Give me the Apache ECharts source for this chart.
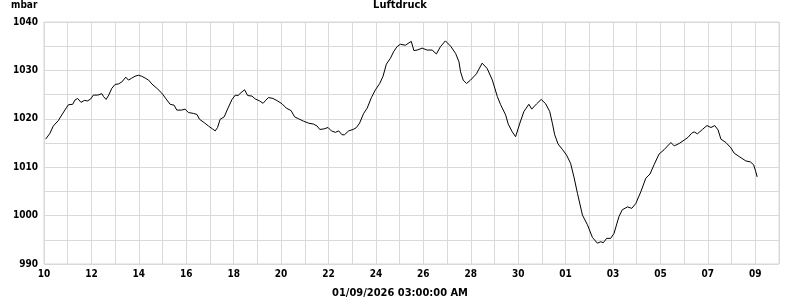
<!DOCTYPE html>
<html><head><meta charset="utf-8">
<script src="https://cdn.jsdelivr.net/npm/echarts@6/dist/echarts.min.js"></script>
<style>html,body{margin:0;padding:0;background:#fff}#c{width:800px;height:300px}</style>
</head><body><div id="c"></div>
<script>
// Days since 10 Dec 00:00
const dayOffsets = [0.07,0.25,0.39,0.60,0.75,0.96,1.03,1.21,1.31,1.42,1.56,1.70,1.84,1.97,2.08,2.27,2.44,2.51,2.62,2.73,2.86,3.00,3.14,3.28,3.35,3.45,3.56,3.70,3.84,3.98,4.12,4.27,4.41,4.55,4.76,4.97,5.18,5.32,5.49,5.60,5.81,5.95,6.09,6.31,6.45,6.56,6.76,6.94,7.11,7.22,7.32,7.43,7.60,7.76,7.93,8.07,8.18,8.31,8.46,8.59,8.77,8.91,9.09,9.24,9.33,9.47,9.66,9.85,10.04,10.22,10.42,10.57,10.74,10.95,11.16,11.37,11.52,11.63,11.80,11.98,12.12,12.29,12.43,12.57,12.67,12.85,13.04,13.18,13.31,13.48,13.63,13.81,13.98,14.16,14.30,14.44,14.61,14.75,14.89,15.03,15.24,15.49,15.60,15.74,15.95,16.16,16.37,16.55,16.72,16.93,17.15,17.36,17.50,17.57,17.68,17.82,17.99,18.24,18.48,18.69,18.91,19.12,19.26,19.47,19.58,19.75,19.89,19.96,20.07,20.24,20.45,20.57,20.78,20.97,21.16,21.33,21.44,21.54,21.68,21.86,22.04,22.21,22.35,22.50,22.71,22.92,23.13,23.34,23.48,23.59,23.73,23.90,24.04,24.25,24.39,24.61,24.79,24.96,25.17,25.38,25.56,25.73,25.94,26.15,26.23,26.44,26.58,26.79,27.00,27.17,27.31,27.42,27.56,27.77,27.96,28.13,28.29,28.43,28.55,28.76,28.97,29.11,29.32,29.60,29.79,29.93,30.00,30.08];
const pressure = [1015.8,1017.0,1018.5,1019.6,1020.8,1022.4,1022.9,1023.0,1023.9,1024.2,1023.4,1023.8,1023.7,1024.1,1024.9,1024.9,1025.2,1024.6,1024.0,1024.9,1026.3,1027.1,1027.2,1027.6,1027.7,1028.6,1028.0,1028.4,1028.8,1029.0,1028.8,1028.4,1028.0,1027.2,1026.3,1025.3,1023.9,1023.0,1022.8,1021.8,1021.8,1022.0,1021.3,1021.1,1020.9,1019.9,1019.2,1018.5,1017.9,1017.5,1018.2,1019.9,1020.4,1022.2,1024.0,1024.9,1024.8,1025.4,1026.0,1024.8,1024.7,1024.1,1023.7,1023.2,1023.7,1024.4,1024.2,1023.7,1023.1,1022.2,1021.7,1020.4,1020.0,1019.5,1019.1,1018.9,1018.5,1017.8,1017.9,1018.2,1017.5,1017.2,1017.5,1016.7,1016.7,1017.5,1017.8,1018.2,1019.1,1021.1,1022.2,1024.4,1026.0,1027.3,1028.8,1031.3,1032.5,1033.9,1034.9,1035.4,1035.2,1036.0,1034.1,1034.2,1034.6,1034.2,1034.2,1033.4,1034.9,1036.1,1035.0,1033.5,1031.8,1029.7,1028.0,1027.3,1028.0,1029.3,1031.5,1030.4,1028.0,1024.6,1022.9,1020.8,1018.9,1017.3,1016.3,1016.4,1019.1,1021.5,1023.0,1022.0,1023.1,1024.0,1023.1,1021.5,1019.1,1016.7,1014.8,1013.7,1012.5,1010.8,1008.0,1004.6,1000.1,998.1,995.5,994.3,994.6,994.4,995.3,995.3,996.3,999.8,1001.2,1001.8,1001.5,1002.5,1004.9,1007.7,1008.6,1010.5,1012.7,1013.6,1013.9,1015.1,1014.4,1014.9,1015.6,1016.2,1017.0,1017.3,1016.9,1017.8,1018.6,1018.2,1018.6,1017.7,1015.8,1015.1,1014.0,1012.9,1012.2,1011.3,1011.1,1010.5,1009.4,1008.0];
const xTickLabels = ['10','12','14','16','18','20','22','24','26','28','30','01','03','05','07','09'];
const titleText = 'Luftdruck';
const unitText = 'mbar';
const footerText = '01/09/2026 03:00:00 AM';

const FONT = '"DejaVu Sans Condensed", "DejaVu Sans", sans-serif';
const GRIDC = '#d9d9d9';
const chart = echarts.init(document.getElementById('c'), null, {renderer: 'canvas'});
chart.setOption({
  animation: false,
  backgroundColor: '#fff',
  title: {text: titleText, left: 'center', top: 0, padding: 0,
    textStyle: {fontFamily: FONT, fontSize: 11, fontWeight: 'bold', color: '#000'}},
  grid: {left: 44, right: 21, top: 22, bottom: 36, show: true, borderColor: GRIDC, borderWidth: 1},
  xAxis: {type: 'value', min: 0, max: 31, interval: 1,
    axisLine: {show: false}, axisTick: {show: false},
    splitLine: {show: true, lineStyle: {color: GRIDC, width: 1}},
    axisLabel: {margin: 5, fontFamily: FONT, fontSize: 10, fontWeight: 'bold', color: '#000',
      showMinLabel: true, showMaxLabel: true,
      formatter: v => (v % 2 === 0 && xTickLabels[v/2] !== undefined) ? xTickLabels[v/2] : ''}},
  yAxis: {type: 'value', min: 990, max: 1040, interval: 5,
    axisLine: {show: false}, axisTick: {show: false},
    splitLine: {show: true, lineStyle: {color: GRIDC, width: 1}},
    axisLabel: {margin: 6, fontFamily: FONT, fontSize: 10, fontWeight: 'bold', color: '#000',
      formatter: v => (v % 10 === 0) ? String(v) : ''}},
  graphic: [
    {type: 'text', left: 11, top: 0, style: {text: unitText, font: 'bold 10px ' + FONT, fill: '#000'}},
    {type: 'text', x: 400, y: 293, style: {text: footerText, font: 'bold 11px ' + FONT, fill: '#000', textAlign: 'center', textVerticalAlign: 'middle'}}
  ],
  series: [{type: 'line', data: dayOffsets.map((d, i) => [d, pressure[i]]),
    showSymbol: false, symbol: 'none', lineStyle: {color: '#000', width: 1}, silent: true}]
});
</script></body></html>
